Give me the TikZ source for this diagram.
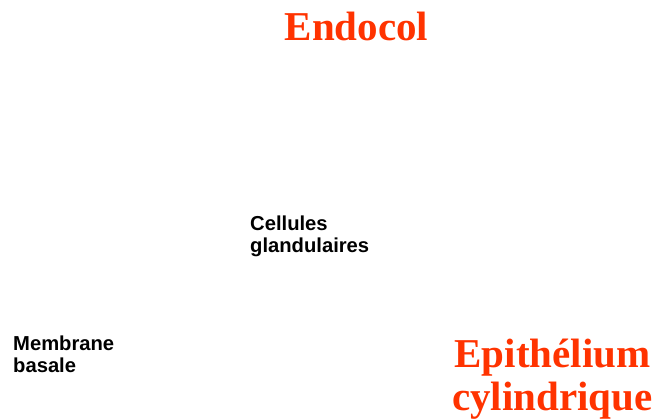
\documentclass[tikz,border=0pt]{standalone}
\usepackage{fontspec}
\setmainfont{Liberation Serif}
\setsansfont{Liberation Sans}
\definecolor{titlered}{HTML}{FF3300}
\begin{document}
\begin{tikzpicture}[x=1pt,y=-1pt,
  bigtitle/.style={inner sep=0pt,anchor=base,text=titlered,font=\fontsize{41}{43}\selectfont\bfseries\rmfamily},
  smalllabel/.style={inner sep=0pt,anchor=base west,text=black,font=\fontsize{20.2}{22}\selectfont\bfseries\sffamily}]
\useasboundingbox (0,0) rectangle (655,418);
\node[bigtitle] (endocol) at (356.5,40) {Endocol};
\node[bigtitle] (epi1) at (552.5,367) {Epithélium};
\node[bigtitle] (epi2) at (552.5,410) {cylindrique};
\node[smalllabel] (cell1) at (250,230) {Cellules};
\node[smalllabel] (cell2) at (250,252) {glandulaires};
\node[smalllabel] (mem1) at (13,350) {Membrane};
\node[smalllabel] (mem2) at (13,372) {basale};
\end{tikzpicture}
\end{document}
